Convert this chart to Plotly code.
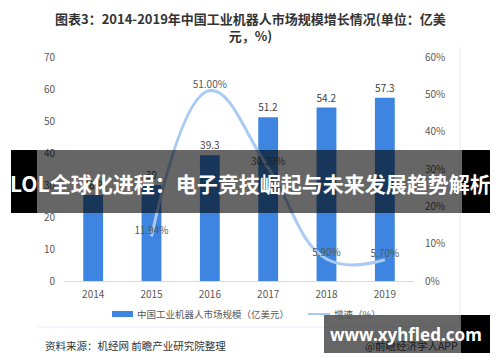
import plotly.graph_objects as go

years = ["2014", "2015", "2016", "2017", "2018", "2019"]
market_size = [26.9, 30, 39.3, 51.2, 54.2, 57.3]
market_labels = ["26.9", "30", "39.3", "51.2", "54.2", "57.3"]
growth = [None, 11.94, 51.00, 30.30, 5.90, 5.70]
growth_labels = ["", "11.94%", "51.00%", "30.30%", "5.90%", "5.70%"]
left_ticks = [0, 10, 20, 30, 40, 50, 60, 70]
right_ticks = [0, 10, 20, 30, 40, 50, 60]
right_tick_text = ["0%", "10%", "20%", "30%", "40%", "50%", "60%"]

FONT = "Noto Sans CJK SC, Noto Sans, sans-serif"
BAR_C = "#3d85e0"
LINE_C = "#a9cbf3"
TICK_C = "#595959"

W, H = 500, 362
L, R, T, B = 64, 414, 57, 281


def px(x):
    return (x - L) / (R - L)


def py(y):
    return (B - y) / (B - T)


fig = go.Figure()
fig.add_trace(go.Bar(
    x=years, y=market_size, text=market_labels, textposition="outside",
    textfont=dict(size=10, color="#404040", family=FONT),
    marker=dict(color=BAR_C, line=dict(width=0)), width=0.34,
    cliponaxis=False, name="中国工业机器人市场规模（亿美元）", yaxis="y"))
fig.add_trace(go.Scatter(
    x=years, y=growth, text=growth_labels, mode="lines+text",
    textposition="top center",
    textfont=dict(size=10, color=TICK_C, family=FONT),
    line=dict(color=LINE_C, width=3, shape="spline", smoothing=1.2),
    cliponaxis=False, name="增速（%）", yaxis="y2"))

shapes = []
annotations = []

# chart frame lines
shapes.append(dict(type="line", xref="paper", yref="paper", x0=px(460), x1=px(460),
                   y0=py(47), y1=py(327), line=dict(color="#e6ecf5", width=1)))
shapes.append(dict(type="line", xref="paper", yref="paper", x0=px(38), x1=px(460),
                   y0=py(327), y1=py(327), line=dict(color="#e6ecf5", width=1)))

# manual legend
shapes.append(dict(type="rect", xref="paper", yref="paper", x0=px(112), x1=px(133),
                   y0=py(317), y1=py(311), fillcolor=BAR_C, line=dict(width=0)))
annotations.append(dict(text="中国工业机器人市场规模（亿美元）", xref="paper", yref="paper",
                        x=px(135), y=py(314), xanchor="left", yanchor="middle", showarrow=False,
                        font=dict(size=9.5, color=TICK_C, family=FONT)))
shapes.append(dict(type="line", xref="paper", yref="paper", x0=px(308), x1=px(330),
                   y0=py(314), y1=py(314), line=dict(color=LINE_C, width=2)))
annotations.append(dict(text="增速（%）", xref="paper", yref="paper",
                        x=px(332), y=py(314), xanchor="left", yanchor="middle", showarrow=False,
                        font=dict(size=9.5, color=TICK_C, family=FONT)))

# title
annotations.append(dict(text="<b>图表3：2014-2019年中国工业机器人市场规模增长情况(单位：亿美<br>元，%)</b>",
                        xref="paper", yref="paper", x=px(250), y=py(7), xanchor="center",
                        yanchor="top", showarrow=False, align="center",
                        font=dict(size=13, color="#333333", family=FONT)))

# source
annotations.append(dict(text="资料来源：机经网 前瞻产业研究院整理", xref="paper", yref="paper",
                        x=px(43), y=py(345), xanchor="left", yanchor="middle", showarrow=False,
                        font=dict(size=10.5, color="#333333", family=FONT)))
annotations.append(dict(text="@前瞻经济学人APP", xref="paper", yref="paper",
                        x=px(460), y=py(345), xanchor="right", yanchor="middle", showarrow=False,
                        font=dict(size=10.5, color="#1a1a1a", family=FONT)))

# banner overlay
shapes.append(dict(type="rect", xref="paper", yref="paper", x0=px(11), x1=px(37),
                   y0=py(213), y1=py(150), fillcolor="black", line=dict(width=0), layer="above"))
shapes.append(dict(type="rect", xref="paper", yref="paper", x0=px(37), x1=px(462),
                   y0=py(213), y1=py(150), fillcolor="black", opacity=0.6,
                   line=dict(width=0), layer="above"))
shapes.append(dict(type="rect", xref="paper", yref="paper", x0=px(462), x1=px(490),
                   y0=py(213), y1=py(150), fillcolor="black", line=dict(width=0), layer="above"))
annotations.append(dict(text="<b>LOL全球化进程：电子竞技崛起与未来发展趋势解析</b>",
                        xref="paper", yref="paper", x=px(250.5), y=py(183), xanchor="center",
                        yanchor="middle", showarrow=False,
                        font=dict(size=21, color="white", family=FONT)))

# url overlay
shapes.append(dict(type="rect", xref="paper", yref="paper", x0=px(324), x1=px(461),
                   y0=py(353), y1=py(315), fillcolor="black", opacity=0.6,
                   line=dict(width=0), layer="above"))
shapes.append(dict(type="rect", xref="paper", yref="paper", x0=px(461), x1=px(490),
                   y0=py(353), y1=py(315), fillcolor="black", line=dict(width=0), layer="above"))
annotations.append(dict(text="<b>www.xyhfled.com</b>", xref="paper", yref="paper",
                        x=px(406), y=py(334), xanchor="center", yanchor="middle", showarrow=False,
                        font=dict(size=17, color="white", family="Noto Sans, sans-serif")))

fig.update_layout(
    width=W, height=H, margin=dict(l=L, r=W - R, t=T, b=H - B, pad=0),
    paper_bgcolor="white", plot_bgcolor="white", showlegend=False,
    font=dict(family=FONT, size=10, color=TICK_C),
    xaxis=dict(type="category", showgrid=False, showline=True, linecolor="#d9d9d9",
               linewidth=1, ticks="", tickfont=dict(size=10, color=TICK_C), ticklabelstandoff=4),
    yaxis=dict(range=[0, 70], tickvals=left_ticks, showgrid=False, zeroline=False,
               showline=False, ticks="", tickfont=dict(size=10, color=TICK_C),
               ticklabelstandoff=8),
    yaxis2=dict(range=[0, 60], tickvals=right_ticks, ticktext=right_tick_text,
                overlaying="y", side="right", showgrid=False, zeroline=False,
                showline=False, ticks="", tickfont=dict(size=10, color=TICK_C),
                ticklabelstandoff=10),
    shapes=shapes, annotations=annotations,
)

fig.write_html("out.html", config={"displayModeBar": False},
               post_script="document.body.style.margin='0px';document.body.style.overflow='hidden';")
